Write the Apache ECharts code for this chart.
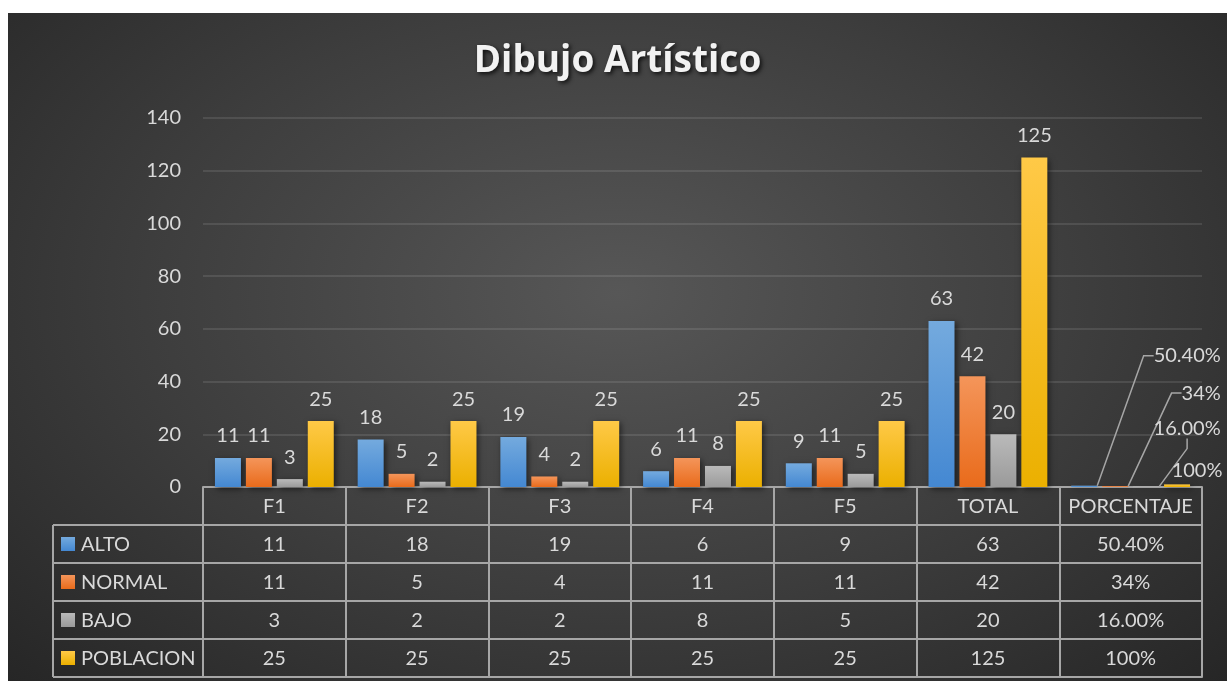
<!DOCTYPE html>
<html>
<head>
<meta charset="utf-8">
<title>Dibujo Artístico</title>
<script src="https://cdn.jsdelivr.net/npm/echarts@6/dist/echarts.min.js"></script>
<style>
  html, body { margin: 0; padding: 0; background: #fff; }
  #chart {
    position: absolute;
    left: 8px;
    top: 13px;
    width: 1219px;
    height: 668px;
    background: radial-gradient(ellipse at 50% 42%, #575757 0%, #3d3d3d 55%, #262626 100%);
  }
</style>
</head>
<body>
<div id="chart"></div>
<script>
  // categorias y series
  const categories = ['F1', 'F2', 'F3', 'F4', 'F5', 'TOTAL', 'PORCENTAJE']
  const seriesNames = ['ALTO', 'NORMAL', 'BAJO', 'POBLACION']
  const alto = [11, 18, 19, 6, 9, 63, 0.504]
  const normal = [11, 5, 4, 11, 11, 42, 0.34]
  const bajo = [3, 2, 2, 8, 5, 20, 0.16]
  const poblacion = [25, 25, 25, 25, 25, 125, 1]
  // texto de la columna PORCENTAJE
  const pctLabels = ['50.40%', '34%', '16.00%', '100%']
  const yTicks = { min: 0, max: 140, interval: 20 }

  const values = [alto, normal, bajo, poblacion]
  // [top, bottom] de cada degradado
  const colors = [
    ['#74aade', '#4488d2'],
    ['#f4955a', '#e96b1b'],
    ['#bababa', '#9a9a9a'],
    ['#ffc947', '#ebb000']
  ]
  // desplazamiento de las etiquetas de porcentaje
  const pctOffset = [[103, -108], [86, -71], [41, -36], [20, 8]]

  const FONT = 'Lato'
  const TXT = '#d9d9d9'
  const LINE = '#a6a6a6'
  const gridLeft = 195
  const gridRight = 25
  const gridBottom = 194
  const rowH = 38
  const legendLeft = 45

  function grad(c) {
    return {
      type: 'linear', x: 0, y: 0, x2: 0, y2: 1,
      colorStops: [{ offset: 0, color: c[0] }, { offset: 1, color: c[1] }]
    }
  }

  function cellText(k, i) {
    return i === categories.length - 1 ? pctLabels[k] : String(values[k][i])
  }

  // ejes x apilados = filas de la tabla
  const xAxes = []
  for (let k = 0; k <= 5; k++) {
    xAxes.push({
      type: 'category',
      data: categories,
      position: 'bottom',
      offset: k * rowH,
      axisLine: { show: true, onZero: false, lineStyle: { color: LINE, width: 2 } },
      axisTick: { show: k < 5, length: rowH, interval: 0, lineStyle: { color: LINE, width: 2 } },
      axisLabel: {
        show: k < 5,
        interval: 0,
        margin: 10,
        color: TXT,
        fontSize: 20,
        fontFamily: FONT,
        formatter: (v, i) => (k === 0 ? v : cellText(k - 1, i))
      },
      splitLine: { show: false }
    })
  }

  const last = categories.length - 1
  const series = seriesNames.map((name, k) => ({
    name,
    type: 'bar',
    xAxisIndex: 0,
    barWidth: 26,
    barGap: '19%',
    itemStyle: {
      color: grad(colors[k]),
      shadowColor: 'rgba(0,0,0,0.55)',
      shadowBlur: 6,
      shadowOffsetX: 2,
      shadowOffsetY: 2
    },
    label: {
      show: true,
      position: 'top',
      distance: 12,
      color: TXT,
      fontSize: 20,
      fontFamily: FONT,
      formatter: p => (p.dataIndex === last ? pctLabels[k] : p.value)
    },
    labelLine: { show: false },
    labelLayout: p => {
      if (p.dataIndex !== last) return {}
      return { dx: pctOffset[k][0], dy: pctOffset[k][1] }
    },
    data: values[k].map((v, i) => {
      if (i === last && k < 3) {
        return { value: v, labelLine: { show: true, length2: 10, lineStyle: { color: LINE, width: 1.5 } } }
      }
      return v
    })
  }))

  // columna de leyenda a la izquierda de la tabla
  const graphic = []
  const chartH = 668
  const zeroY = chartH - gridBottom
  for (let r = 1; r <= 5; r++) {
    graphic.push({
      type: 'line',
      shape: { x1: legendLeft, y1: zeroY + r * rowH, x2: gridLeft, y2: zeroY + r * rowH },
      style: { stroke: LINE, lineWidth: 2 }
    })
  }
  graphic.push({
    type: 'line',
    shape: { x1: legendLeft, y1: zeroY + rowH, x2: legendLeft, y2: zeroY + 5 * rowH },
    style: { stroke: LINE, lineWidth: 2 }
  })
  seriesNames.forEach((name, k) => {
    const top = zeroY + (k + 1) * rowH
    graphic.push({
      type: 'rect',
      shape: { x: legendLeft + 8, y: top + 12, width: 14, height: 14 },
      style: { fill: grad(colors[k]) }
    })
    graphic.push({
      type: 'text',
      x: legendLeft + 28,
      y: top + rowH / 2 + 1,
      style: { text: name, fill: TXT, fontSize: 20, fontFamily: FONT, verticalAlign: 'middle' }
    })
  })

  const option = {
    animation: false,
    title: {
      text: 'Dibujo Artístico',
      left: 'center',
      top: 25,
      textStyle: {
        color: '#f2f2f2',
        fontSize: 37,
        fontWeight: 'bold',
        fontFamily: 'Open Sans',
        textShadowColor: 'rgba(0,0,0,0.75)',
        textShadowBlur: 4,
        textShadowOffsetX: 2,
        textShadowOffsetY: 2
      }
    },
    grid: { left: gridLeft, right: gridRight, top: 105, bottom: gridBottom, containLabel: false },
    xAxis: xAxes,
    yAxis: {
      type: 'value',
      min: yTicks.min,
      max: yTicks.max,
      interval: yTicks.interval,
      axisLine: { show: false },
      axisTick: { show: false },
      axisLabel: { color: TXT, fontSize: 20, fontFamily: FONT, margin: 22 },
      splitLine: { lineStyle: { color: 'rgba(255,255,255,0.1)', width: 2 } }
    },
    graphic,
    series
  }

  const myChart = echarts.init(document.getElementById('chart'))
  myChart.setOption(option)
  window.addEventListener('resize', () => myChart.resize())
</script>
</body>
</html>
